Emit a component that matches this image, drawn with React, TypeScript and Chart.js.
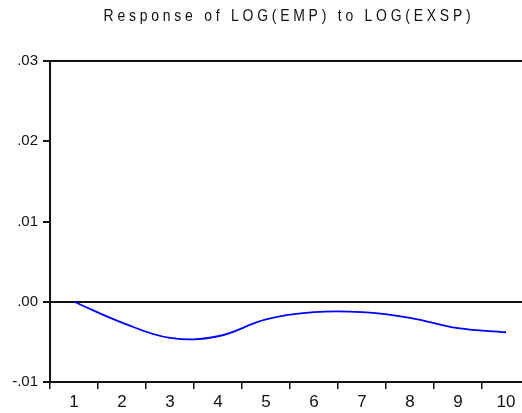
import React, { useEffect, useRef } from "react";
import { Chart, registerables } from "chart.js";

Chart.register(...registerables);

const titleText = "Response of LOG(EMP) to LOG(EXSP)";
const periods = ["1", "2", "3", "4", "5", "6", "7", "8", "9", "10"];
const response = [0, -0.0026, -0.0045, -0.0043, -0.0022, -0.0013, -0.0013, -0.002, -0.0033, -0.0038];
const yTickValues = [-0.01, 0, 0.01, 0.02, 0.03];
const yTickLabels = ["-.01", ".00", ".01", ".02", ".03"];

const FONT = '"Liberation Sans", Arial, sans-serif';

const titlePlugin = {
  id: "customTitle",
  afterDraw(chart: any) {
    const { ctx, chartArea } = chart;
    const sx = 0.82;
    const cx = (chartArea.left + chartArea.right) / 2 - 1;
    ctx.save();
    ctx.translate(cx, 21);
    ctx.scale(sx, 1);
    ctx.font = `17px ${FONT}`;
    (ctx as any).letterSpacing = "4.6px";
    ctx.fillStyle = "#111";
    ctx.textAlign = "center";
    ctx.textBaseline = "alphabetic";
    ctx.fillText(titleText, 0, 0);
    ctx.restore();
  },
};

export default function App() {
  const ref = useRef<HTMLCanvasElement | null>(null);
  useEffect(() => {
    if (!ref.current) return;
    const chart = new Chart(ref.current, {
      type: "line",
      data: {
        labels: periods,
        datasets: [
          {
            data: response,
            borderColor: "#0000ff",
            borderWidth: 1.8,
            pointRadius: 0,
            tension: 0.4,
            fill: false,
          },
        ],
      },
      options: {
        animation: false,
        responsive: false,
        layout: { padding: { top: 61, right: 10, left: 0, bottom: 0 } },
        plugins: { legend: { display: false }, title: { display: false }, tooltip: { enabled: false } },
        scales: {
          x: {
            type: "category",
            offset: true,
            grid: {
              offset: true,
              drawOnChartArea: false,
              color: "#111",
              tickColor: "#111",
              tickLength: 7,
              lineWidth: 1.5,
            },
            border: { display: true, color: "#111", width: 2 },
            ticks: {
              color: "#111",
              font: { family: FONT, size: 17 },
              padding: 3,
              maxRotation: 0,
              autoSkip: false,
            },
            afterFit(scale: any) {
              scale.height = 31;
            },
          },
          y: {
            min: -0.01,
            max: 0.03,
            afterBuildTicks(scale: any) {
              scale.ticks = yTickValues.map((v) => ({ value: v }));
            },
            grid: {
              color: (c: any) =>
                c.tick && (Math.abs(c.tick.value) < 1e-9 || Math.abs(c.tick.value - 0.03) < 1e-9) ? "#111" : "rgba(0,0,0,0)",
              lineWidth: 2,
              tickColor: "#111",
              tickLength: 7,
            },
            border: { display: true, color: "#111", width: 2 },
            ticks: {
              color: "#111",
              font: { family: FONT, size: 15 },
              padding: 5,
              callback: (v: any) => {
                const i = yTickValues.findIndex((t) => Math.abs(t - Number(v)) < 1e-9);
                return i >= 0 ? yTickLabels[i] : "";
              },
            },
            afterFit(scale: any) {
              scale.width = 50;
            },
          },
        },
      },
      plugins: [titlePlugin],
    });
    return () => chart.destroy();
  }, []);
  return (
    <div
      style={{
        position: "fixed",
        left: 0,
        top: 0,
        width: 522,
        height: 413,
        overflow: "hidden",
        background: "#fff",
      }}
    >
      <canvas ref={ref} width={540} height={413} style={{ display: "block" }} />
    </div>
  );
}
